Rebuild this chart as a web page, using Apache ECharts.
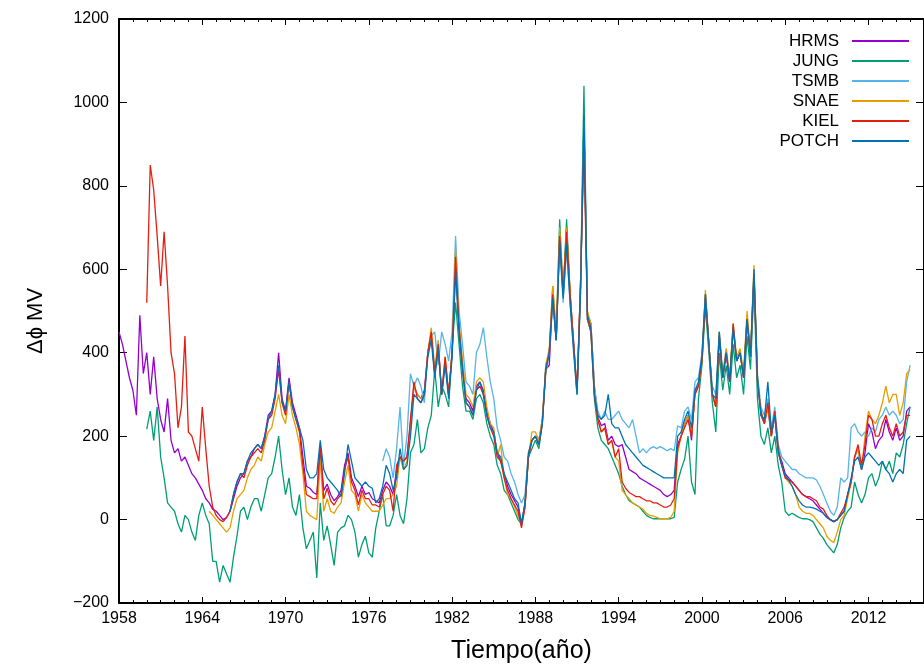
<!DOCTYPE html>
<html>
<head>
<meta charset="utf-8">
<script src="https://cdn.jsdelivr.net/npm/echarts@6/dist/echarts.min.js"></script>
<style>
  html, body { margin: 0; padding: 0; background: #fff; }
  #chart { width: 924px; height: 669px; }
</style>
</head>
<body>
<div id="chart"></div>
<script>
// Quarterly samples (step 0.25 yr); each station has its own first year.
const STEP = 0.25;

const hrmsStart = 1958.0;
const hrms = [
  450, 420, 380, 340,  310, 250, 490, 350,  400, 300, 390, 290,  240, 210, 290, 190,
  160, 170, 140, 150,  130, 110, 100, 85,   70, 50, 40, 25,      20, 10, 0, 5,
  20, 50, 80, 100,     110, 140, 150, 170,  180, 170, 200, 250,  260, 300, 400, 290,
  260, 340, 280, 250,  220, 150, 80, 75,    65, 60, 170, 70,     85, 60, 45, 55,
  70, 130, 160, 100,   80, 55, 80, 60,      65, 50, 45, 40,      70, 90, 80, 60,
  120, 150, 140, 150,  230, 320, 300, 290,  310, 400, 440, 350,  420, 300, 380, 300,
  400, 600, 460, 370,  290, 280, 260, 320,  330, 310, 260, 230,  210, 160, 140, 110,
  80, 60, 45, 30,      -10, 40, 150, 190,   200, 180, 240, 360,  370, 540, 430, 680,
  540, 700, 540, 430,  305, 560, 950, 490,  470, 320, 245, 225,  230, 190, 200, 180,
  175, 180, 150, 120,  115, 110, 100, 95,   90, 85, 80, 75,      70, 60, 55, 60,
  70, 180, 200, 230,   250, 190, 310, 320,  380, 540, 420, 300,  270, 440, 340, 400,
  330, 460, 380, 400,  340, 480, 390, 580,  340, 250, 230, 270,  200, 250, 160, 140,
  110, 100, 90, 80,    70, 60, 55, 50,      45, 35, 25, 15,      5, 0, -5, 0,
  10, 20, 60, 90,      150, 170, 120, 160,  230, 210, 170, 190,  200, 240, 210, 190,
  220, 190, 200, 260,  270
];

const jungStart = 1960.0;
const jung = [
  217, 260, 190, 270,  150, 100, 40, 30,    20, -10, -30, 10,    0, -30, -50, 10,
  40, 10, -10, -100,   -100, -150, -110, -130,  -150, -90, -40, 20,  30, 0, 30, 50,
  50, 20, 60, 100,     110, 150, 200, 120,  60, 100, 30, 10,     60, -20, -70, -50,
  -30, -140, 40, -50,  -15, -60, -110, -30, -20, -15, 10, 0,     -30, -90, -60, -40,
  -80, -90, -20, 20,   60, -15, -15, 10,    60, 10, -10, 50,     160, 180, 240, 160,
  170, 220, 250, 360,  270, 320, 300, 270,  410, 520, 420, 320,  260, 260, 240, 290,
  300, 280, 230, 200,  180, 130, 110, 70,   60, 40, 20, 0,       -10, 30, 150, 170,
  190, 170, 230, 370,  400, 560, 440, 720,  540, 720, 540, 420,  300, 560, 1040, 480,
  450, 290, 220, 190,  180, 170, 150, 130,  110, 80, 60, 45,     40, 35, 30, 20,
  10, 5, 2, 2,         2, 2, 2, 2,          5, 90, 120, 145,     200, 90, 60, 290,
  370, 510, 400, 280,  210, 400, 310, 370,  300, 420, 340, 370,  300, 440, 360, 560,
  290, 200, 180, 220,  160, 200, 130, 90,   20, 10, 15, 10,      5, 2, 2, 0,
  -5, -20, -35, -45,   -60, -70, -80, -60,  -20, 5, 20, 30,      90, 60, 40, 60,
  100, 110, 80, 100,   140, 120, 140, 110,  160, 150, 180, 230,  270
];

const tsmbStart = 1977.0;
const tsmb = [
  140, 170, 150, 100,  170, 270, 130, 200,  350, 320, 340, 320,  280, 400, 440, 450,
  370, 450, 420, 380,  450, 680, 500, 420,  330, 320, 300, 400,  420, 460, 390, 330,
  290, 220, 190, 150,  140, 110, 90, 60,    40, 60, 160, 190,    200, 190, 240, 350,
  400, 520, 430, 660,  520, 650, 520, 400,  300, 540, 950, 480,  470, 320, 260, 240,
  260, 240, 240, 250,  260, 240, 230, 220,  240, 200, 160, 170,  160, 170, 175, 170,
  175, 170, 165, 170,  165, 225, 220, 260,  270, 240, 330, 340,  400, 540, 420, 320,
  300, 450, 350, 410,  340, 460, 380, 400,  350, 490, 390, 590,  350, 270, 250, 290,
  220, 270, 180, 150,  140, 130, 120, 120,  110, 105, 100, 100,  100, 95, 80, 60,
  40, 20, 10, 30,      100, 90, 100, 220,   230, 210, 200, 210,  200, 220, 210, 240,
  250, 270, 250, 260,  250, 230, 240, 330,  370
];

const snaeStart = 1964.5;
const snae = [
  20, 10,
  0, -10, -20, -30,    -20, 20, 50, 60,     70, 100, 120, 130,   150, 140, 180, 210,
  220, 260, 300, 250,  230, 300, 250, 220,  180, 110, 20, 10,    5, 0, 145, 20,
  50, 20, 15, 30,      40, 90, 130, 70,     60, 20, 60, 40,      30, 20, 20, 20,
  35, 50, 50, 60,      80, 150, 120, 140,   230, 320, 300, 290,  300, 400, 460, 360,
  430, 300, 390, 300,  400, 650, 470, 380,  300, 290, 270, 330,  340, 330, 270, 230,
  220, 150, 180, 100,  60, 50, 30, 10,      -15, 30, 150, 210,   210, 190, 240, 370,
  410, 560, 450, 700,  550, 700, 550, 420,  310, 560, 920, 500,  470, 310, 240, 210,
  220, 180, 190, 150,  140, 70, 60, 50,     40, 35, 30, 25,      15, 10, 8, 5,
  2, 2, 2, 5,          20, 160, 200, 230,   250, 200, 300, 320,  380, 550, 420, 300,
  270, 450, 340, 410,  340, 470, 390, 410,  350, 500, 400, 610,  340, 260, 230, 270,
  200, 250, 160, 130,  100, 90, 80, 60,     30, 20, 15, 15,      10, 0, -10, -20,
  -40, -50, -55, -30,  0, 10, 50, 90,       150, 170, 120, 200,  260, 240, 230, 250,
  280, 320, 280, 300,  300, 250, 280, 350,  360
];

const kielStart = 1960.0;
const kiel = [
  520, 850, 790, 680,  560, 690, 560, 400,  350, 220, 270, 440,  210, 200, 170, 140,
  270, 170, 80, 30,    10, 0, -5, 5,        20, 60, 90, 110,     100, 130, 150, 160,
  170, 160, 190, 240,  250, 290, 360, 280,  250, 330, 270, 240,  210, 130, 60, 55,
  50, 50, 180, 50,     75, 45, 35, 50,      60, 120, 150, 90,    70, 35, 70, 50,
  50, 35, 35, 30,      60, 80, 70, 20,      130, 150, 140, 150,  240, 330, 290, 280,
  300, 400, 450, 350,  420, 300, 390, 300,  400, 630, 460, 360,  280, 270, 250, 310,
  320, 300, 250, 220,  200, 150, 140, 100,  70, 50, 35, 20,      -20, 30, 150, 190,
  200, 180, 230, 360,  400, 540, 430, 680,  540, 690, 540, 420,  310, 560, 900, 480,
  450, 300, 240, 210,  220, 180, 190, 150,  170, 90, 75, 65,     60, 55, 55, 50,
  45, 45, 40, 40,      35, 30, 30, 35,      50, 170, 200, 220,   240, 200, 300, 320,
  380, 530, 420, 300,  270, 440, 340, 400,  330, 470, 380, 400,  340, 480, 390, 590,
  330, 260, 230, 280,  200, 260, 170, 130,  100, 95, 90, 80,     70, 60, 55, 55,
  50, 45, 30, 25,      10, 0, -5, 0,        15, 30, 60, 90,      150, 180, 130, 180,
  250, 240, 200, 200,  230, 250, 220, 200,  230, 200, 210, 250,  250
];

const potchStart = 1966.0;
const potch = [
  20, 60, 90, 110,     110, 140, 160, 170,  180, 170, 200, 240,  260, 300, 370, 280,
  260, 330, 270, 240,  220, 190, 120, 100,  100, 110, 190, 120,  100, 90, 80, 70,
  55, 110, 180, 140,   100, 90, 80, 90,     80, 75, 40, 50,      80, 130, 110, 70,
  100, 170, 120, 130,  200, 300, 290, 280,  300, 390, 430, 340,  410, 300, 370, 290,
  390, 600, 450, 360,  280, 270, 250, 310,  330, 300, 250, 220,  210, 160, 150, 110,
  90, 70, 50, 40,      -10, 40, 160, 190,   200, 180, 230, 360,  400, 530, 430, 670,
  530, 660, 520, 410,  300, 540, 970, 490,  460, 300, 250, 240,  250, 300, 230, 220,
  220, 200, 180, 170,  160, 150, 140, 130,  125, 120, 115, 110,  105, 100, 100, 100,
  100, 200, 210, 240,  260, 220, 310, 330,  390, 540, 420, 300,  290, 450, 340, 400,
  330, 460, 380, 400,  340, 480, 390, 600,  340, 250, 240, 330,  210, 250, 160, 130,
  105, 95, 80, 60,     45, 35, 30, 30,      28, 25, 20, 15,      5, 0, -5, 0,
  10, 20, 60, 100,     140, 150, 120, 150,  160, 150, 140, 130,  140, 120, 110, 90,
  110, 120, 110, 190,  200
];

const stations = [
  { name: 'HRMS',  start: hrmsStart,  values: hrms,  color: '#9400D3' },
  { name: 'JUNG',  start: jungStart,  values: jung,  color: '#009E73' },
  { name: 'TSMB',  start: tsmbStart,  values: tsmb,  color: '#56B4E9' },
  { name: 'SNAE',  start: snaeStart,  values: snae,  color: '#E69F00' },
  { name: 'KIEL',  start: kielStart,  values: kiel,  color: '#E51E10' },
  { name: 'POTCH', start: potchStart, values: potch, color: '#0072B2' }
];

const yTicks = { min: -200, max: 1200, step: 200 };
const xTicks = { min: 1958, max: 2016, step: 6 };

const FONT = "'Liberation Sans', Arial, Helvetica, sans-serif";
const chart = echarts.init(document.getElementById('chart'), null, { renderer: 'canvas' });

const frameLine = { show: true, onZero: false, lineStyle: { color: '#000', width: 2 } };
// plain integers, true minus sign for negatives
const fmtNum = v => (v < 0 ? '\u2212' + Math.abs(v) : String(v));

chart.setOption({
  animation: false,
  backgroundColor: '#fff',
  textStyle: { fontFamily: FONT, color: '#000' },
  grid: { left: 119, top: 19, width: 816, height: 586, containLabel: false },
  legend: {
    orient: 'vertical',
    right: 10,
    top: 27,
    align: 'right',
    itemWidth: 57,
    itemHeight: 2,
    itemGap: 2,
    icon: 'rect',
    textStyle: { fontFamily: FONT, fontSize: 17, color: '#000', lineHeight: 18, padding: [0, 8, 0, 0] },
    data: stations.map(s => ({ name: s.name, icon: 'rect' }))
  },
  xAxis: [
    {
      type: 'value', position: 'bottom',
      min: xTicks.min, max: xTicks.max, interval: xTicks.step,
      name: 'Tiempo(año)', nameLocation: 'middle', nameGap: 36,
      nameTextStyle: { fontFamily: FONT, fontSize: 25, color: '#000' },
      axisLine: frameLine,
      axisTick: { show: true, inside: true, length: 6, lineStyle: { color: '#000', width: 1 } },
      minorTick: { show: true, splitNumber: 6, length: 3, lineStyle: { color: '#000', width: 1 } },
      axisLabel: { show: true, margin: 8, fontSize: 16, color: '#000', fontFamily: FONT,
                   showMaxLabel: false, formatter: v => String(v) },
      splitLine: { show: false }
    },
    {
      type: 'value', position: 'top',
      min: xTicks.min, max: xTicks.max, interval: xTicks.step,
      axisLine: frameLine,
      axisTick: { show: true, inside: true, length: 6, lineStyle: { color: '#000', width: 1 } },
      minorTick: { show: true, splitNumber: 6, length: 3, lineStyle: { color: '#000', width: 1 } },
      axisLabel: { show: false },
      splitLine: { show: false }
    }
  ],
  yAxis: [
    {
      type: 'value', position: 'left',
      min: yTicks.min, max: yTicks.max, interval: yTicks.step,
      name: 'Δϕ MV', nameLocation: 'middle', nameGap: 72, nameRotate: 90,
      nameTextStyle: { fontFamily: FONT, fontSize: 22, color: '#000', padding: [0, 20, 0, 0] },
      axisLine: frameLine,
      axisTick: { show: true, inside: true, length: 8, lineStyle: { color: '#000', width: 1 } },
      axisLabel: { show: true, margin: 10, fontSize: 16, color: '#000', fontFamily: FONT, formatter: fmtNum },
      splitLine: { show: false }
    },
    {
      type: 'value', position: 'right',
      min: yTicks.min, max: yTicks.max, interval: yTicks.step,
      axisLine: frameLine,
      axisTick: { show: true, inside: true, length: 8, lineStyle: { color: '#000', width: 1 } },
      axisLabel: { show: false },
      splitLine: { show: false }
    }
  ],
  series: stations.map(s => ({
    name: s.name,
    type: 'line',
    xAxisIndex: 0,
    yAxisIndex: 0,
    showSymbol: false,
    symbol: 'none',
    color: s.color,
    lineStyle: { color: s.color, width: 1.3 },
    data: s.values.map((v, i) => [s.start + i * STEP, v])
  }))
});
</script>
</body>
</html>
